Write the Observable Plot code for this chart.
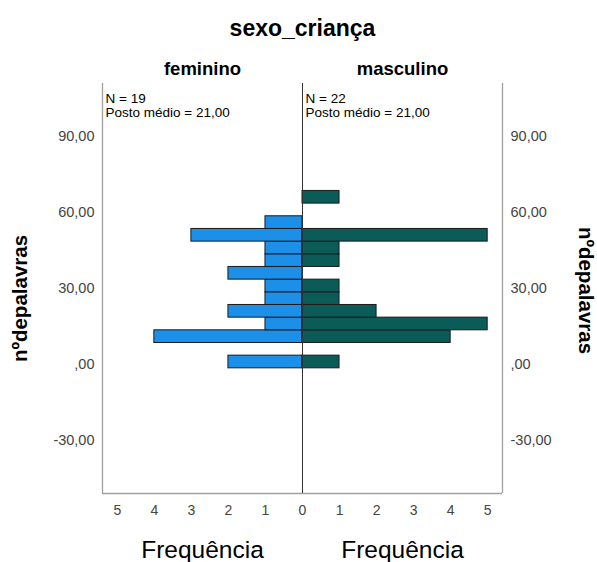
<!DOCTYPE html>
<html><head><meta charset="utf-8">
<script src="https://cdn.jsdelivr.net/npm/d3@7"></script>
<script src="https://cdn.jsdelivr.net/npm/@observablehq/plot@0.6"></script>
<style>body{margin:0;background:#fff}</style>
</head><body><div id="chart"></div>
<script>
// bins of nºdepalavras (width 5), bottom to top
const binLow  = [-1.5, 3.5, 8.5, 13.5, 18.5, 23.5, 28.5, 33.5, 38.5, 43.5, 48.5, 53.5, 58.5, 63.5];
const binHigh = [3.5, 8.5, 13.5, 18.5, 23.5, 28.5, 33.5, 38.5, 43.5, 48.5, 53.5, 58.5, 63.5, 68.5];
const feminino  = [2, 0, 4, 1, 2, 1, 1, 2, 1, 1, 3, 1, 0, 0];
const masculino = [1, 0, 4, 5, 2, 1, 1, 0, 1, 1, 5, 0, 0, 1];
const yTicks = [-30, 0, 30, 60, 90];
const freqTicks = [-5, -4, -3, -2, -1, 0, 1, 2, 3, 4, 5];
const groups = ["feminino", "masculino"];
const nLabels = ["N = 19", "N = 22"];
const postoLabels = ["Posto médio = 21,00", "Posto médio = 21,00"];

const femRows = binLow.map((lo, i) => ({lo, hi: binHigh[i], count: feminino[i]})).filter(d => d.count > 0);
const mascRows = binLow.map((lo, i) => ({lo, hi: binHigh[i], count: masculino[i]})).filter(d => d.count > 0);

const fmt = d => d === 0 ? ",00" : d.toFixed(2).replace(".", ",");
const font = "Liberation Sans, Arial, sans-serif";
const T = {text: d => d, textAnchor: "middle", lineAnchor: "middle"};

const chart = Plot.plot({
  width: 597, height: 562,
  marginLeft: 102, marginRight: 95, marginTop: 83, marginBottom: 69,
  x: {domain: [-5.4, 5.4]},
  y: {domain: [-50.9, 110.9]},
  style: {fontFamily: font, background: "#fff", color: "#000"},
  marks: [
    Plot.rectX(femRows, {x1: d => -d.count, x2: 0, y1: "lo", y2: "hi", fill: "#1c90e8", stroke: "#1a1a1a", strokeWidth: 1}),
    Plot.rectX(mascRows, {x1: 0, x2: "count", y1: "lo", y2: "hi", fill: "#0b5c59", stroke: "#1a1a1a", strokeWidth: 1}),
    Plot.ruleX([-5.4, 5.4], {stroke: "#a0a0a0", strokeWidth: 1.3}),
    Plot.ruleY([-50.9], {stroke: "#a0a0a0", strokeWidth: 1.3}),
    Plot.ruleX([0], {stroke: "#333", strokeWidth: 1}),
    Plot.axisY(yTicks, {anchor: "left", label: null, tickSize: 0, tickPadding: 8, tickFormat: fmt, fontSize: 14.5, fill: "#444"}),
    Plot.axisY(yTicks, {anchor: "right", label: null, tickSize: 0, tickPadding: 8, tickFormat: fmt, fontSize: 14.5, fill: "#444"}),
    Plot.axisX(freqTicks, {anchor: "bottom", label: null, tickSize: 0, tickPadding: 12, tickFormat: d => Math.abs(d), fontSize: 14, fill: "#444"}),
    Plot.text(["sexo_criança"], {...T, frameAnchor: "top", dy: -55, fontSize: 23, fontWeight: "bold"}),
    Plot.text([groups[0]], {...T, frameAnchor: "top-left", dx: 100, dy: -14, fontSize: 18.5, fontWeight: "bold"}),
    Plot.text([groups[1]], {...T, frameAnchor: "top", dx: 100, dy: -14, fontSize: 18.5, fontWeight: "bold"}),
    Plot.text([nLabels[0]], {...T, frameAnchor: "top-left", dx: 3, dy: 15, textAnchor: "start", fontSize: 13.5}),
    Plot.text([postoLabels[0]], {...T, frameAnchor: "top-left", dx: 3, dy: 29.5, textAnchor: "start", fontSize: 13.5}),
    Plot.text([nLabels[1]], {...T, frameAnchor: "top", dx: 3, dy: 15, textAnchor: "start", fontSize: 13.5}),
    Plot.text([postoLabels[1]], {...T, frameAnchor: "top", dx: 3, dy: 29.5, textAnchor: "start", fontSize: 13.5}),
    Plot.text(["Frequência"], {...T, frameAnchor: "bottom-left", dx: 100, dy: 57, fontSize: 24.5}),
    Plot.text(["Frequência"], {...T, frameAnchor: "bottom", dx: 100, dy: 57, fontSize: 24.5}),
    Plot.text(["nºdepalavras"], {...T, frameAnchor: "left", dx: -82, dy: 10, rotate: -90, fontSize: 20.5, fontWeight: "bold"}),
    Plot.text(["nºdepalavras"], {...T, frameAnchor: "right", dx: 83, dy: 2, rotate: 90, fontSize: 20.5, fontWeight: "bold"})
  ]
});
document.getElementById("chart").appendChild(chart);
</script>
</body></html>
